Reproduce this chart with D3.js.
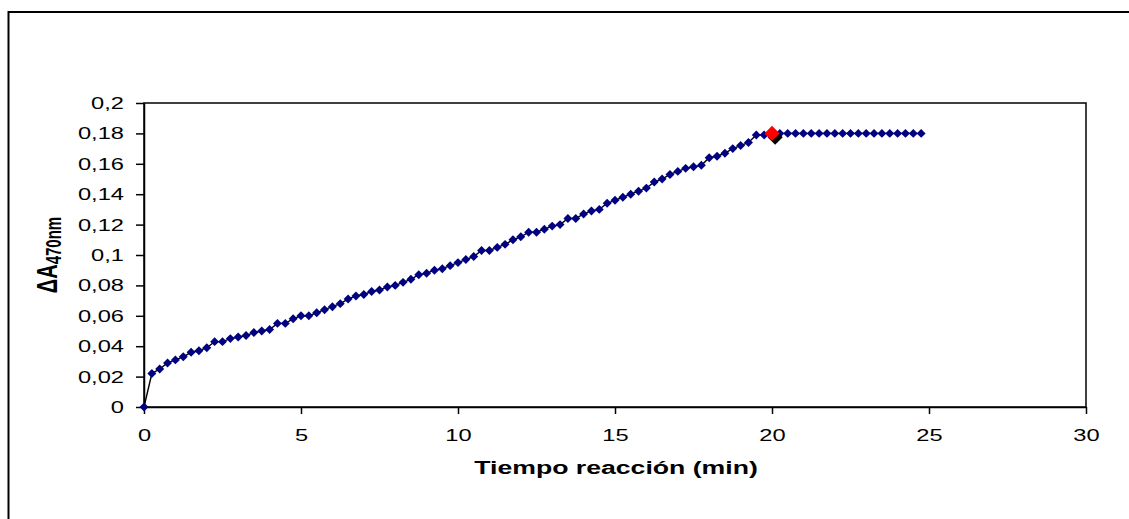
<!DOCTYPE html>
<html>
<head>
<meta charset="utf-8">
<script src="https://cdn.jsdelivr.net/npm/d3@7"></script>
<style>
  body { margin: 0; background: #fff; }
  svg { display: block; font-family: "Liberation Sans", Arial, sans-serif; }
</style>
</head>
<body>
<div id="chart"></div>
<script>
// tiempo (min) every 15 s, absorbance change
const absorbance = [
  0, 0.022, 0.025, 0.029, 0.031, 0.033, 0.036, 0.037, 0.039, 0.043,
  0.043, 0.045, 0.046, 0.047, 0.049, 0.050, 0.051, 0.055, 0.055, 0.058,
  0.060, 0.060, 0.062, 0.064, 0.066, 0.068, 0.071, 0.073, 0.074, 0.076,
  0.077, 0.079, 0.080, 0.082, 0.084, 0.087, 0.088, 0.090, 0.091, 0.093,
  0.095, 0.097, 0.099, 0.103, 0.103, 0.105, 0.107, 0.110, 0.112, 0.115,
  0.115, 0.117, 0.119, 0.120, 0.124, 0.124, 0.127, 0.129, 0.130, 0.134,
  0.136, 0.138, 0.140, 0.142, 0.144, 0.148, 0.150, 0.153, 0.155, 0.157,
  0.158, 0.159, 0.164, 0.165, 0.167, 0.170, 0.172, 0.174, 0.179, 0.179,
  0.180, 0.180, 0.180, 0.180, 0.180, 0.180, 0.180, 0.180, 0.180, 0.180,
  0.180, 0.180, 0.180, 0.180, 0.180, 0.180, 0.180, 0.180, 0.180, 0.180
];
const times = absorbance.map((v, i) => i * 0.25);
const endPoint = {t: 20, a: 0.18};       // red marker
const endShadow = {t: 20.1, a: 0.1775};  // black marker behind it
const xTicks = [0, 5, 10, 15, 20, 25, 30];
const yTicks = [0, 0.02, 0.04, 0.06, 0.08, 0.1, 0.12, 0.14, 0.16, 0.18, 0.2];

const W = 1129, H = 519;
const plotL = 144, plotR = 1086, plotT = 103, plotB = 407;
const stretch = 1.48;

const svg = d3.select("#chart").append("svg")
  .attr("width", W).attr("height", H);

// outer frame (right and bottom sides fall outside the picture)
svg.append("rect")
  .attr("x", 8.5).attr("y", 12)
  .attr("width", W + 20).attr("height", H + 20)
  .attr("fill", "none").attr("stroke", "#000").attr("stroke-width", 2);

const x = d3.scaleLinear().domain([0, 30]).range([plotL, plotR]);
const y = d3.scaleLinear().domain([0, 0.2]).range([plotB, plotT]);
const fmt = d => String(+d.toFixed(2)).replace(".", ",");

// plot box
svg.append("rect")
  .attr("x", plotL).attr("y", plotT)
  .attr("width", plotR - plotL).attr("height", plotB - plotT)
  .attr("fill", "none").attr("stroke", "#000").attr("stroke-width", 1.5);

const gy = svg.append("g")
  .attr("transform", `translate(${plotL},0)`)
  .call(d3.axisLeft(y).tickValues(yTicks).tickFormat(fmt).tickSizeInner(8).tickSizeOuter(0));
gy.selectAll("path, line").attr("stroke", "#000").attr("stroke-width", 1.5);
gy.selectAll("text")
  .attr("x", 0).attr("dy", null)
  .attr("transform", "translate(-20,5.5) scale(" + stretch + ",1)")
  .style("font-size", "16px").attr("fill", "#000")
  .style("font-family", "'Liberation Sans', Arial, sans-serif");

const gx = svg.append("g")
  .attr("transform", `translate(0,${plotB})`)
  .call(d3.axisBottom(x).tickValues(xTicks).tickSizeInner(7).tickSizeOuter(0));
gx.selectAll("path, line").attr("stroke", "#000").attr("stroke-width", 1.5);
gx.selectAll("text")
  .attr("y", 0).attr("dy", null)
  .attr("transform", "translate(0,34) scale(" + stretch + ",1)")
  .style("font-size", "16px").attr("fill", "#000")
  .style("font-family", "'Liberation Sans', Arial, sans-serif");

// axis titles
svg.append("text")
  .attr("transform", `translate(${(plotL + plotR) / 2 + 1},474) scale(${stretch},1)`)
  .attr("text-anchor", "middle")
  .style("font-size", "18px").style("font-weight", "bold")
  .text("Tiempo reacción (min)");

const yt = svg.append("text")
  .attr("transform", `translate(57,255) rotate(-90) scale(1,${stretch})`)
  .attr("text-anchor", "middle")
  .style("font-weight", "bold");
yt.append("tspan").style("font-size", "20px").text("ΔA");
yt.append("tspan").style("font-size", "15px").attr("dy", 3).text("470nm");

// data
const pts = times.map((t, i) => ({t: t, a: absorbance[i]}));

svg.append("path")
  .datum(pts)
  .attr("fill", "none")
  .attr("stroke", "#000")
  .attr("stroke-width", 1.4)
  .attr("d", d3.line().x(d => x(d.t)).y(d => y(d.a)));

const small = d3.symbol().type(d3.symbolSquare).size(40);
svg.selectAll(".pt")
  .data(pts)
  .enter().append("path")
  .attr("class", "pt")
  .attr("d", small)
  .attr("transform", d => `translate(${x(d.t)},${y(d.a)}) rotate(45)`)
  .attr("fill", "#000080");

const big = d3.symbol().type(d3.symbolSquare).size(115);
svg.append("path")
  .attr("d", big)
  .attr("transform", `translate(${x(endShadow.t)},${y(endShadow.a)}) rotate(45)`)
  .attr("fill", "#000");
svg.append("path")
  .attr("d", big)
  .attr("transform", `translate(${x(endPoint.t)},${y(endPoint.a)}) rotate(45)`)
  .attr("fill", "#ff0000");
</script>
</body>
</html>
